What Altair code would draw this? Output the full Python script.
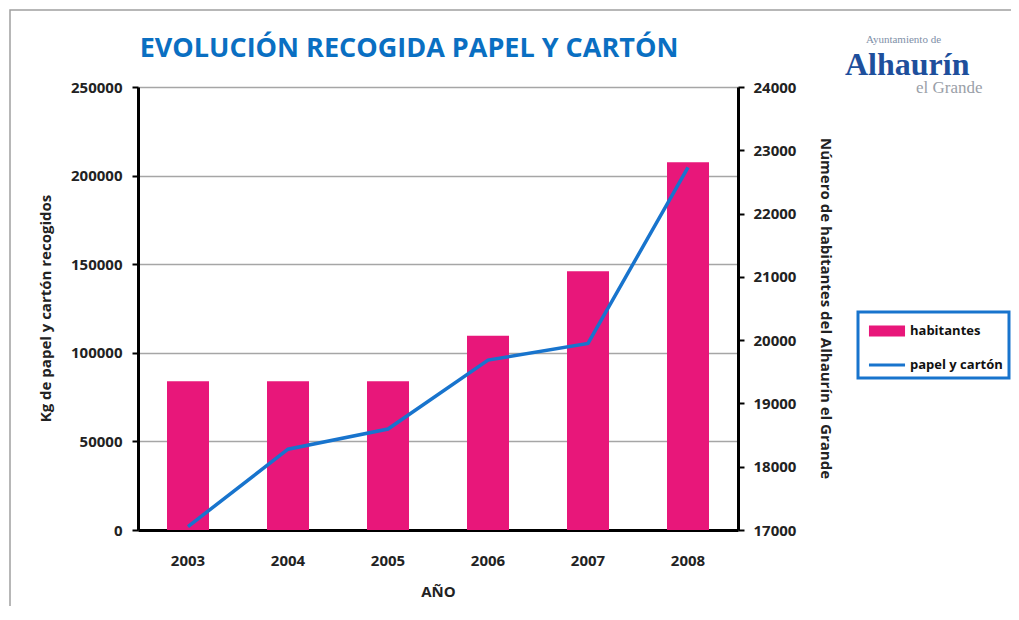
import altair as alt
import pandas as pd

years = ["2003", "2004", "2005", "2006", "2007", "2008"]
habitantes = [19350, 19350, 19350, 20070, 21090, 22810]
papel = [1900, 45600, 57000, 95900, 105300, 204700]
series = ["habitantes", "papel y cartón"]
left_ticks = [0, 50000, 100000, 150000, 200000, 250000]
right_ticks = [17000, 18000, 19000, 20000, 21000, 22000, 23000, 24000]
title_text = "EVOLUCIÓN RECOGIDA PAPEL Y CARTÓN"
logo_texts = ["Ayuntamiento de", "Alhaurín", "el Grande"]

MAGENTA = "#E8177A"
BLUE = "#1874CD"
FONT = "Open Sans"

df_bar = pd.DataFrame({"anio": years, "valor": habitantes, "serie": series[0]})
df_line = pd.DataFrame({"anio": years, "valor": papel, "serie": series[1]})


def make_legend(sym, y):
    return alt.Legend(
        title=None, orient="none", legendX=729, legendY=y, padding=0,
        labelFont=FONT, labelFontSize=13, labelFontWeight="bold", labelColor="#111111",
        labelOffset=3, symbolSize=1300, symbolStrokeWidth=3, symbolType=sym,
    )


xenc = alt.X("anio:N", scale=alt.Scale(paddingInner=0.58, paddingOuter=0.29),
             axis=alt.Axis(title="AÑO", labelAngle=0, ticks=False, domainColor="#000000",
                           domainWidth=3, labelPadding=23, titlePadding=16,
                           labelFont=FONT, labelFontSize=15, labelFontWeight="bold",
                           labelColor="#222222", titleFont=FONT, titleFontSize=15,
                           titleFontWeight="bold", titleColor="#222222"))

bars = alt.Chart(df_bar).mark_bar().encode(
    x=xenc,
    y=alt.Y("valor:Q", scale=alt.Scale(domain=[17000, 24000], zero=False, nice=False),
            axis=alt.Axis(orient="right", values=right_ticks, format="d", grid=False,
                          title="Número de habitantes del Alhaurín el Grande",
                          domainColor="#000000", domainWidth=3, tickColor="#000000",
                          tickWidth=2, tickSize=6, labelPadding=9,
                          labelFont=FONT, labelFontSize=15, labelFontWeight="bold",
                          labelColor="#222222", titleFont=FONT, titleFontSize=15,
                          titleFontWeight="bold", titleColor="#222222", titleAngle=90,
                          titleX=87, titleY=221, titleAlign="center", titleBaseline="middle")),
    y2=alt.datum(17000),
    fill=alt.Fill("serie:N", scale=alt.Scale(domain=[series[0]], range=[MAGENTA]),
                  legend=make_legend("M-1,-0.3H1V0.3H-1Z", 224)),
)

line = alt.Chart(df_line).mark_line(strokeWidth=3.5).encode(
    x=alt.X("anio:N"),
    y=alt.Y("valor:Q", scale=alt.Scale(domain=[0, 250000], nice=False),
            axis=alt.Axis(orient="left", values=left_ticks, format="d", grid=True,
                          gridColor="#A6A6A6", gridWidth=1.5,
                          title="Kg de papel y cartón recogidos",
                          domainColor="#000000", domainWidth=3, tickColor="#000000",
                          tickWidth=2, tickSize=6, labelPadding=10,
                          labelFont=FONT, labelFontSize=15, labelFontWeight="bold",
                          labelColor="#222222", titleFont=FONT, titleFontSize=15,
                          titleFontWeight="bold", titleColor="#222222", titleAngle=-90,
                          titleX=-93, titleY=221, titleAlign="center", titleBaseline="middle")),
    stroke=alt.Stroke("serie:N", scale=alt.Scale(domain=[series[1]], range=[BLUE]),
                      legend=make_legend("stroke", 258)),
)

text_df = pd.DataFrame({"t": [title_text] + logo_texts})
title = alt.Chart(text_df).transform_filter(alt.datum.t == title_text).mark_text(
    font=FONT, fontSize=27, fontWeight="bold", color="#0A6FC2", align="center",
    baseline="alphabetic").encode(text="t:N", x=alt.value(271), y=alt.value(-30))
logo1 = alt.Chart(text_df).transform_filter(alt.datum.t == logo_texts[0]).mark_text(
    font="Liberation Serif", fontSize=11, color="#8090A8", align="left",
    baseline="alphabetic").encode(text="t:N", x=alt.value(728), y=alt.value(-44))
logo2 = alt.Chart(text_df).transform_filter(alt.datum.t == logo_texts[1]).mark_text(
    font="Liberation Serif", fontSize=32, fontWeight="bold", color="#1E4F9C", align="left",
    baseline="alphabetic").encode(text="t:N", x=alt.value(707), y=alt.value(-12))
logo3 = alt.Chart(text_df).transform_filter(alt.datum.t == logo_texts[2]).mark_text(
    font="Liberation Serif", fontSize=17, color="#9AA0A8", align="left",
    baseline="alphabetic").encode(text="t:N", x=alt.value(778), y=alt.value(6))

frame_df = pd.DataFrame({"k": ["border", "legend"]})
border = alt.Chart(frame_df).transform_filter("datum.k == 'border'").mark_rect(
    fill="transparent", stroke="#A0A0A0", strokeWidth=1.5).encode(
    x=alt.value(-128), x2=alt.value(900), y=alt.value(-77), y2=alt.value(560))
legend_box = alt.Chart(frame_df).transform_filter("datum.k == 'legend'").mark_rect(
    fill="transparent", stroke=BLUE, strokeWidth=3).encode(
    x=alt.value(720), x2=alt.value(871), y=alt.value(225), y2=alt.value(291))

chart = alt.layer(border, bars, line, legend_box, title, logo1, logo2, logo3).resolve_scale(
    y="independent"
).properties(
    width=600, height=443,
    padding={"left": 130, "top": 79, "right": 273, "bottom": 76},
    autosize=alt.AutoSizeParams(type="none"),
).configure_view(stroke=None)

chart.save("out.html", embed_options={"renderer": "svg", "actions": False})
